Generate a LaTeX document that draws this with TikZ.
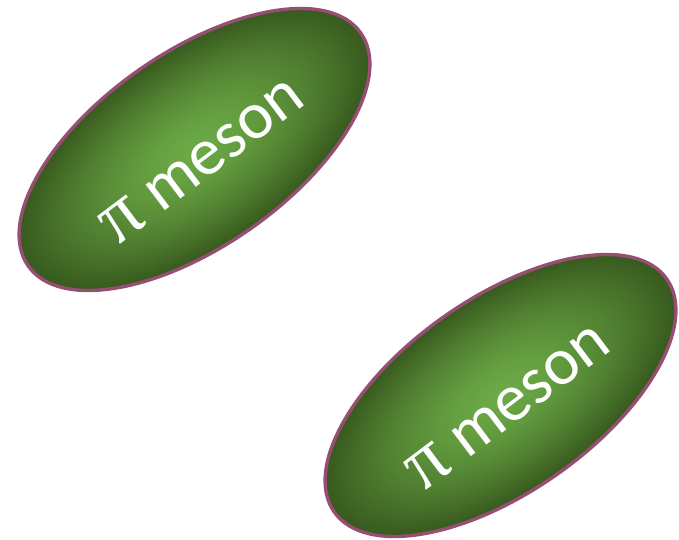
\documentclass[tikz,border=0pt]{standalone}
\usepackage{fontspec}
\setmainfont{Carlito}
\newfontfamily\pifont{Liberation Serif}
\definecolor{mesonlight}{RGB}{108,170,70}
\definecolor{mesondark}{RGB}{56,90,30}
\definecolor{mesonrim}{RGB}{150,78,115}
\tikzset{
  mesonlabel/.style={text=white, font=\fontsize{67}{80}\selectfont, inner sep=0pt},
  mesonrimline/.style={draw=mesonrim, line width=3.4pt}
}
% A tilted ellipse with a radial green fill, built from concentric ellipses
\newcommand\mesonblob[2]{%
  \begin{scope}[shift={(#1,#2)}, rotate=35]
    \foreach \k in {0,...,69}{
      \pgfmathsetmacro\s{1-\k/70}
      \pgfmathsetmacro\p{100*(1-\s^1.5)}
      \pgfmathsetmacro\rx{203*\s}
      \pgfmathsetmacro\ry{97*\s}
      \fill[mesonlight!\p!mesondark] (0,0) ellipse [x radius=\rx pt, y radius=\ry pt];
    }
    \draw[mesonrimline] (0,0) ellipse [x radius=203pt, y radius=97pt];
  \end{scope}}
\begin{document}
\begin{tikzpicture}[x=1pt, y=1pt]
  \useasboundingbox (0,0) rectangle (679,539);
  \mesonblob{194.5}{389.5}
  \mesonblob{500.5}{143.5}
  \node[mesonlabel, rotate=37] (m1) at (202,378) {{\pifont\fontsize{78}{80}\selectfont π} meson};
  \node[mesonlabel, rotate=37] (m2) at (508,132) {{\pifont\fontsize{78}{80}\selectfont π} meson};
\end{tikzpicture}
\end{document}
